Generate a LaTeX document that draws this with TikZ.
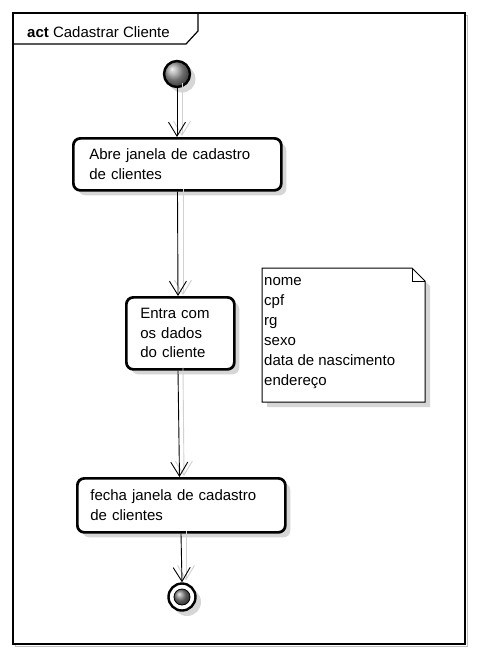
\documentclass[tikz,border=0pt]{standalone}
\usepackage{fontspec}
\setmainfont{Liberation Sans}
\usetikzlibrary{arrows.meta,shadows,shapes.misc}
\begin{document}
\begin{tikzpicture}[x=1pt,y=-1pt,
  every node/.style={font=\fontsize{15}{19.5}\selectfont},
  actbox/.style={draw=black,line width=2.7pt,rounded corners=7pt,fill=white,
    align=left,anchor=north west,inner sep=0pt,
    drop shadow={shadow xshift=5pt,shadow yshift=-5pt,fill=black!16,opacity=1}},
  flow/.style={line width=0.9pt,-{Straight Barb[length=14pt,width=17pt,line width=0.9pt]}},
  flowshadow/.style={line width=0.9pt,draw=black!18,-{Straight Barb[length=14pt,width=17pt,line width=0.9pt]}},
  shadowfill/.style={fill=black!16,draw=none}
]
\useasboundingbox (0,0) rectangle (478,657);
% frame
\draw[black!25,line width=1pt] (15,15) rectangle (467,646);
\draw[line width=1.2pt,fill=white] (13,13) rectangle (465,644);
\draw[line width=1.2pt] (13,44) -- (186,44) -- (198,31) -- (198,13);
\node[anchor=base west,inner sep=0pt] (title) at (27,37) {\textbf{act} Cadastrar Cliente};

% initial node
\fill[shadowfill] (182,79) circle (13.5);
\node[circle,minimum size=26pt,inner sep=0pt,draw=black,line width=2.4pt,
  shading=ball,ball color=black!40] (start) at (177,74) {};

% action 1
\node[actbox,minimum width=208pt,minimum height=52pt,text width=180pt] (a1) at (72,137)
  {\hspace*{2pt}Abre janela de cadastro\\\hspace*{2pt}de clientes};
% action 2
\node[actbox,minimum width=108pt,minimum height=72pt,text width=80pt] (a2) at (125,296)
  {Entra com\\os dados\\do cliente};
% action 3
\node[actbox,minimum width=208pt,minimum height=54pt,text width=190pt] (a3) at (76,477)
  {\hspace*{4pt}fecha janela de cadastro\\\hspace*{4pt}de clientes};

% final node
\fill[shadowfill] (187,602) circle (14);
\node[circle,minimum size=27pt,inner sep=0pt,draw=black,line width=2.4pt,fill=white] (end) at (182,597) {};
\node[circle,minimum size=16pt,inner sep=0pt,draw=black,line width=0.8pt,
  shading=ball,ball color=black!50] (endin) at (182,597) {};

% note
\fill[shadowfill] (267,273) -- (417,273) -- (430,286) -- (430,407) -- (267,407) -- cycle;
\draw[line width=1pt,fill=white] (262,268) -- (412,268) -- (425,281) -- (425,402) -- (262,402) -- cycle;
\draw[line width=1pt] (412,268) -- (412,281) -- (425,281);
\node[anchor=north west,inner sep=0pt,align=left,font=\fontsize{15}{20}\selectfont] (note) at (264,277)
  {nome\\cpf\\rg\\sexo\\data de nascimento\\endereço};

% connectors (shadows first)
\draw[flowshadow] ([xshift=5pt,yshift=5pt]start.south) -- ([xshift=5pt,yshift=1pt]a1.north -| start);
\draw[flow] (start.south) -- (a1.north -| start);
\draw[flowshadow] ([xshift=6pt,yshift=3pt]a1.south -| start) -- ([xshift=6pt,yshift=1pt]a2.north -| start);
\draw[flow] ([xshift=0.5pt]a1.south -| start) -- ([xshift=1pt]a2.north -| start);
\draw[flowshadow] ([xshift=6pt,yshift=3pt]a2.south -| start) -- ([xshift=7pt,yshift=1pt]a3.north -| start);
\draw[flow] ([xshift=1pt]a2.south -| start) -- ([xshift=2.5pt]a3.north -| start);
\draw[flowshadow] ([xshift=4pt,yshift=3pt]a3.south -| end) -- ([xshift=4pt,yshift=2pt]end.north);
\draw[flow] ([xshift=-1pt]a3.south -| end) -- (end.north);
\end{tikzpicture}
\end{document}
